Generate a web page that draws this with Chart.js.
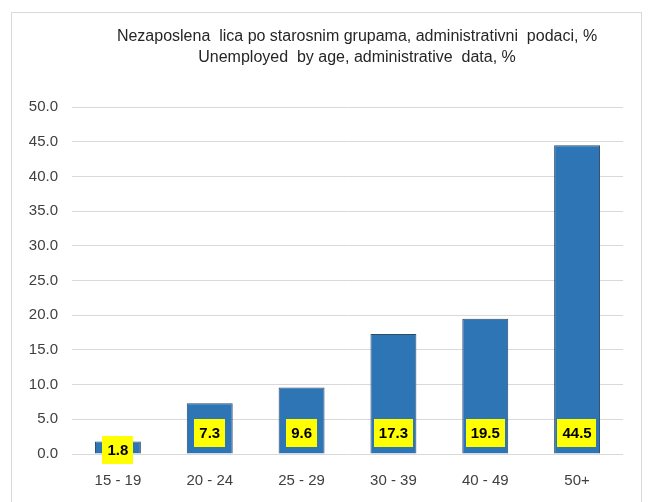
<!DOCTYPE html>
<html>
<head>
<meta charset="utf-8">
<script src="https://cdn.jsdelivr.net/npm/chart.js@4.4.0/dist/chart.umd.min.js"></script>
<style>
  html, body { margin: 0; padding: 0; background: #fff; }
  #wrap { position: relative; width: 649px; height: 502px; overflow: hidden; }
  #frame { position: absolute; left: 11px; top: 12px; width: 629px; height: 510px; border: 1px solid #d9d9d9; }
  canvas { position: absolute; left: 0; top: 0; }
</style>
</head>
<body>
<div id="wrap">
  <div id="frame"></div>
  <canvas id="age-chart" width="649" height="502"></canvas>
</div>
<script>
var categories = ['15 - 19', '20 - 24', '25 - 29', '30 - 39', '40 - 49', '50+'];
var shares = [1.8, 7.3, 9.6, 17.3, 19.5, 44.5];
var titleLines = [
  'Nezaposlena  lica po starosnim grupama, administrativni  podaci, %',
  'Unemployed  by age, administrative  data, %'
];

var fontFamily = "'Liberation Sans', Arial, sans-serif";

// two-line heading, centred a little right of the plot like the original
var heading = {
  id: 'heading',
  afterDraw: function (chart) {
    var c = chart.ctx;
    c.save();
    c.font = '16px ' + fontFamily;
    c.fillStyle = '#262626';
    c.textAlign = 'center';
    c.textBaseline = 'middle';
    titleLines.forEach(function (line, i) {
      c.fillText(line, 357, 37 + i * 21);
    });
    c.restore();
  }
};

// yellow value boxes at the base of each bar
var valueBoxes = {
  id: 'valueBoxes',
  afterDatasetsDraw: function (chart) {
    var c = chart.ctx;
    var meta = chart.getDatasetMeta(0);
    c.save();
    c.font = 'bold 15px ' + fontFamily;
    c.textAlign = 'center';
    c.textBaseline = 'middle';
    meta.data.forEach(function (bar, i) {
      var txt = shares[i].toFixed(1);
      var w = c.measureText(txt).width + 10;
      var h = 28;
      var base = bar.base;
      var mid = (bar.y + base) / 2;
      var cy = Math.max(base - 21, mid + 2);
      c.fillStyle = '#ffff00';
      c.fillRect(Math.round(bar.x - w / 2), Math.round(cy - h / 2), Math.round(w), h);
      c.fillStyle = '#000';
      c.fillText(txt, bar.x, cy + 1);
    });
    c.restore();
  }
};

var ctx = document.getElementById('age-chart').getContext('2d');
var ageChart = new Chart(ctx, {
  type: 'bar',
  data: {
    labels: categories,
    datasets: [{
      data: shares,
      backgroundColor: '#2e75b6',
      borderColor: '#2f4a68',
      borderWidth: 1,
      borderSkipped: 'bottom',
      barPercentage: 0.5,
      categoryPercentage: 1
    }]
  },
  options: {
    responsive: false,
    animation: false,
    layout: { padding: { left: 0, right: 26, top: 107, bottom: 0 } },
    plugins: {
      legend: { display: false },
      tooltip: { enabled: false },
      title: { display: false }
    },
    scales: {
      x: {
        grid: { display: false, drawTicks: false },
        border: { display: false },
        ticks: { color: '#404040', font: { family: fontFamily, size: 15 }, padding: 18 },
        afterFit: function (scale) { scale.height = 48; }
      },
      y: {
        min: 0,
        max: 50,
        grid: { color: '#d9d9d9', drawTicks: false },
        border: { display: false },
        ticks: {
          stepSize: 5,
          color: '#404040',
          padding: 14,
          font: { family: fontFamily, size: 15 },
          callback: function (v) { return v.toFixed(1); }
        },
        afterFit: function (scale) { scale.width = 72; }
      }
    }
  },
  plugins: [valueBoxes, heading]
});
</script>
</body>
</html>
